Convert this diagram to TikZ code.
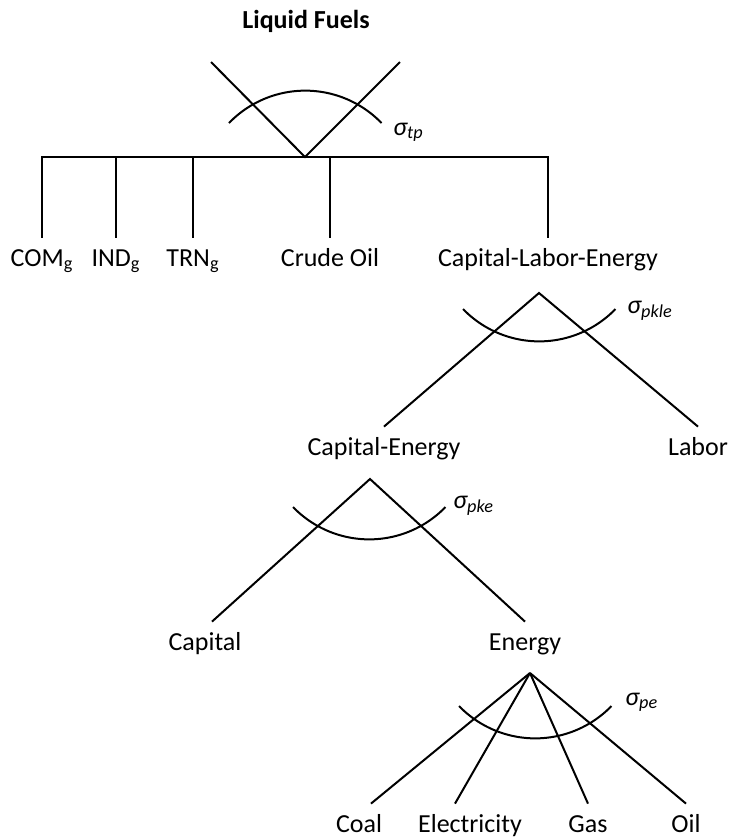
\documentclass[tikz,border=0pt]{standalone}
\usepackage{fontspec}
\setmainfont{Carlito}
\usetikzlibrary{positioning}
\tikzset{
    leaf/.style = {font=\fontsize{13}{15}\selectfont, inner xsep=0pt, inner ysep=5pt,
                   text height=9pt, text depth=2.5pt, anchor=base},
    head/.style = {font=\fontsize{13}{15}\selectfont\bfseries, anchor=base},
    elas/.style = {font=\fontsize{13}{15}\selectfont\itshape, inner sep=0pt, anchor=base west},
    branch/.style = {line width=1pt, draw=black},
    sigarc/.style = {line width=1pt, draw=black},
}

\begin{document}
\begin{tikzpicture}[x=0.5pt, y=0.5pt]
\useasboundingbox (0,0) rectangle (732,-837);

% Nests
\node (lf) [head] at (306,-28) {Liquid Fuels};
\coordinate (tp) at (305,-157);
\coordinate (tpl) at (211,-62);
\coordinate (tpr) at (400,-62);
\node (com) [leaf] at (42,-266) {COM\textsubscript{g}};
\node (ind) [leaf] at (116,-266) {IND\textsubscript{g}};
\node (trn) [leaf] at (193,-266) {TRN\textsubscript{g}};
\node (crude) [leaf] at (330,-266) {Crude Oil};
\node (cle) [leaf] at (548,-266) {Capital-Labor-Energy};
\coordinate (kle) at (539,-293);
\node (ce) [leaf] at (384,-455) {Capital-Energy};
\node (labor) [leaf] at (698,-455) {Labor};
\coordinate (ke) at (370,-479);
\node (cap) [leaf] at (205,-650) {Capital};
\node (en) [leaf] at (525,-650) {Energy};
\coordinate (pe) at (530,-673);
\node (coal) [leaf] at (359,-832) {Coal};
\node (elec) [leaf] at (470,-832) {Electricity};
\node (gas) [leaf] at (588,-832) {Gas};
\node (oil) [leaf] at (686,-832) {Oil};

% Elasticities
\node (stp) [elas] at (393,-135) {σ\textsubscript{tp}};
\node (spkle) [elas] at (627,-313) {σ\textsubscript{pkle}};
\node (spke) [elas] at (453,-508) {σ\textsubscript{pke}};
\node (spe) [elas] at (625,-705) {σ\textsubscript{pe}};
\draw[sigarc] (229,-123) arc[start angle=136, end angle=44, radius=106];
\draw[sigarc] (463,-309) arc[start angle=224, end angle=316, radius=106];
\draw[sigarc] (293,-507) arc[start angle=224, end angle=316, radius=106];
\draw[sigarc] (459,-706) arc[start angle=224, end angle=316, radius=106];

% Branches
\draw[branch] (tpl) -- (tp) -- (tpr);
\draw[branch] (com.north) |- (tp) -| (cle.north);
\draw[branch] (ind.north) -- (ind.north |- tp);
\draw[branch] (trn.north) -- (trn.north |- tp);
\draw[branch] (crude.north) -- (crude.north |- tp);
\draw[branch] (ce.north) -- (kle) -- (labor.north);
\draw[branch] ([xshift=3.5pt]cap.north) -- (ke) -- (en.north);
\draw[branch] ([xshift=6pt]coal.north) -- (pe);
\draw[branch] ([xshift=-7.5pt]elec.north) -- (pe);
\draw[branch] (gas.north) -- (pe);
\draw[branch] (oil.north) -- (pe);
\end{tikzpicture}
\end{document}
